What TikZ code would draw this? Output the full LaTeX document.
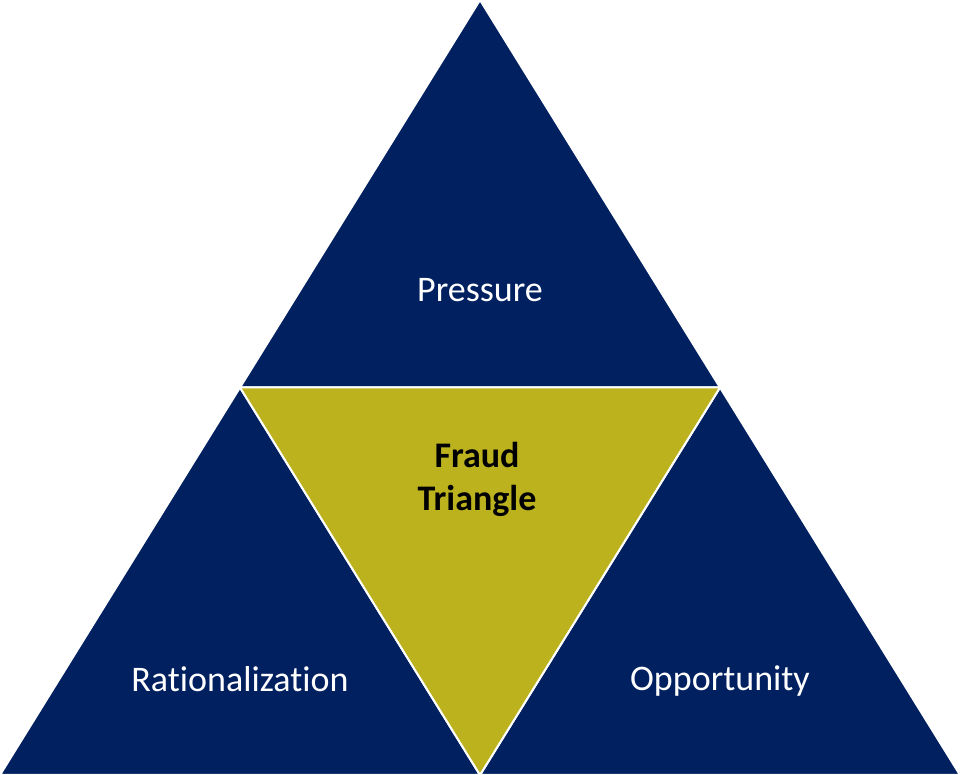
\documentclass[tikz,border=0pt]{standalone}
\usepackage{fontspec}
\setmainfont{Carlito}[Ligatures={NoCommon}]
\definecolor{navy}{RGB}{0,32,96}
\definecolor{olive}{RGB}{187,178,30}
\begin{document}
\begin{tikzpicture}[x=1pt,y=1pt,
  tri/.style={fill=#1,draw=white,line width=2pt,line join=miter},
  lbl/.style={text=white,font=\fontsize{36}{43}\selectfont,align=center},
  blbl/.style={text=black,font=\fontsize{36}{43}\selectfont\bfseries,align=center}]
\useasboundingbox (0,0) rectangle (960,775);
\coordinate (A) at (0,0);
\coordinate (B) at (960,0);
\coordinate (C) at (480,775);
\coordinate (L) at (240,387.5);
\coordinate (R) at (720,387.5);
\coordinate (M) at (480,0);
\fill[navy] (A) -- (B) -- (C) -- cycle;
\draw[tri=navy] (L) -- (R) -- (C) -- cycle;
\draw[tri=navy] (A) -- (M) -- (L) -- cycle;
\draw[tri=navy] (M) -- (B) -- (R) -- cycle;
\draw[tri=olive] (L) -- (R) -- (M) -- cycle;
\node[lbl] (press) at (480,485) {Pressure};
\node[lbl] (rat) at (240,96) {Rationalization};
\node[lbl] (opp) at (720,94) {Opportunity};
\node[blbl] (fraud) at (477,296) {Fraud\\Triangle};
\end{tikzpicture}
\end{document}
